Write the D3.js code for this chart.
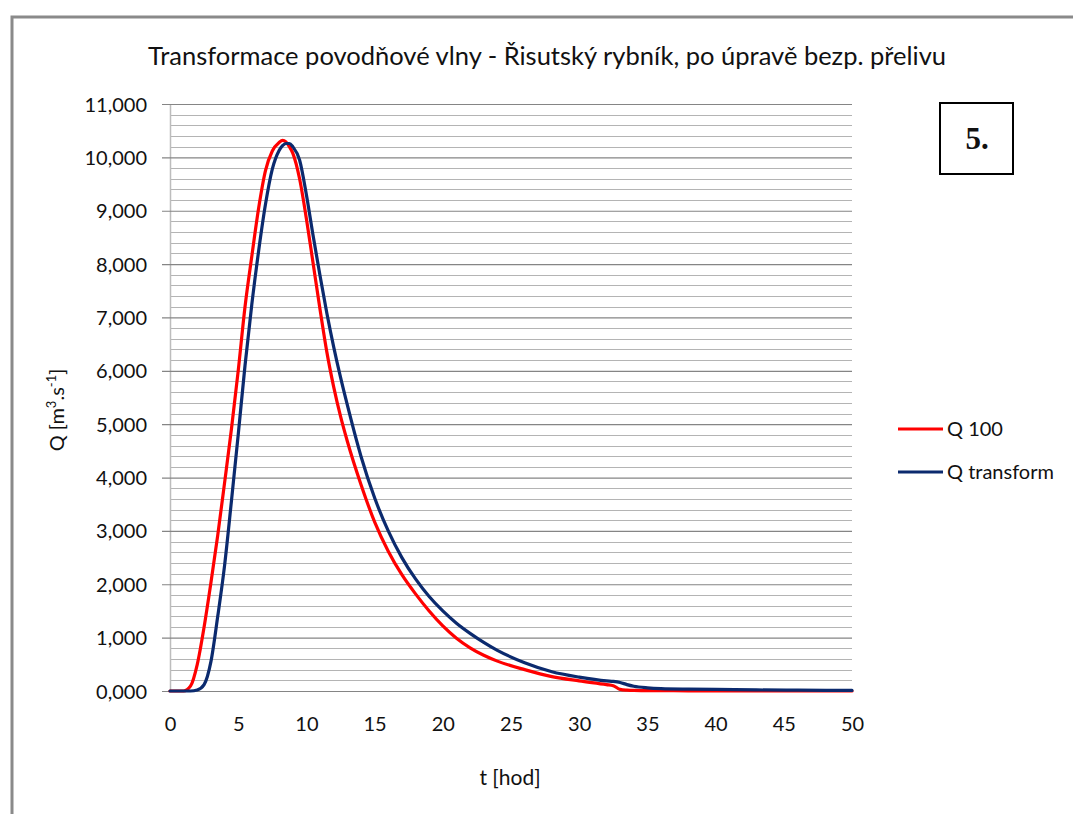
<!DOCTYPE html>
<html>
<head>
<meta charset="utf-8">
<script src="https://cdn.jsdelivr.net/npm/d3@7"></script>
<style>
  html, body { margin: 0; padding: 0; background: #ffffff; }
  svg { display: block; }
  text { font-family: Lato, "Open Sans", sans-serif; fill: #111; }
</style>
</head>
<body>
<svg id="chart" width="1073" height="814"></svg>
<script>
// Time [h]
const timeHours = [0, 1, 1.5, 2, 2.5, 3, 3.5, 4, 4.5, 5, 5.5, 6, 6.5, 7, 7.5, 8, 8.25, 8.5, 8.75, 9, 9.5, 10, 10.5, 11, 11.5, 12, 12.5, 13, 14, 15, 16, 17, 18, 19, 20, 21, 22, 23, 24, 26, 28, 30, 32, 32.5, 33, 33.5, 34, 35, 36, 38, 40, 43, 46, 50];
// Inflow hydrograph Q100 [m3/s]
const q100 = [0, 0, 0.09, 0.5, 1.2, 2.03, 2.92, 3.9, 4.9, 6.0, 7.2, 8.15, 9.05, 9.75, 10.12, 10.28, 10.32, 10.29, 10.2, 10.08, 9.6, 8.85, 8.0, 7.15, 6.35, 5.7, 5.15, 4.68, 3.87, 3.17, 2.62, 2.18, 1.82, 1.5, 1.22, 0.99, 0.81, 0.67, 0.56, 0.4, 0.27, 0.19, 0.12, 0.1, 0.03, 0.015, 0.01, 0.008, 0.006, 0.004, 0.003, 0.002, 0.001, 0];
// Outflow after transformation in the pond [m3/s]
const qTransform = [0, 0, 0, 0.02, 0.12, 0.55, 1.4, 2.35, 3.55, 4.8, 6.1, 7.25, 8.25, 9.12, 9.78, 10.13, 10.22, 10.26, 10.26, 10.2, 9.95, 9.3, 8.52, 7.78, 7.08, 6.45, 5.88, 5.36, 4.4, 3.62, 3.0, 2.5, 2.1, 1.77, 1.5, 1.27, 1.08, 0.91, 0.76, 0.53, 0.36, 0.26, 0.19, 0.18, 0.16, 0.12, 0.09, 0.06, 0.045, 0.035, 0.03, 0.02, 0.015, 0.01];

const xTicks = [0, 5, 10, 15, 20, 25, 30, 35, 40, 45, 50];
const yMajorTicks = [0, 1, 2, 3, 4, 5, 6, 7, 8, 9, 10, 11];
const seriesNames = ["Q 100", "Q transform"];
const seriesColors = ["#ff0000", "#0b2a6e"];

const titleText = "Transformace povodňové vlny - Řisutský rybník, po úpravě bezp. přelivu";

const svg = d3.select("#chart");

// outer frame (top and left edges)
svg.append("path")
  .attr("d", "M12,814 V17 H1073")
  .attr("fill", "none")
  .attr("stroke", "#8a8a8a")
  .attr("stroke-width", 3);

const plot = { left: 170, right: 852, top: 104, bottom: 691 };

const x = d3.scaleLinear().domain([0, 50]).range([plot.left, plot.right]);
const y = d3.scaleLinear().domain([0, 11]).range([plot.bottom, plot.top]);

const czLocale = d3.formatLocale({ decimal: ",", thousands: " ", grouping: [3], currency: ["", ""] });
const fmt = czLocale.format(".3f");

// minor gridlines every 0.2
const minorTicks = d3.range(0, 11.0001, 0.2).filter(v => Math.abs(v - Math.round(v)) > 1e-6);
svg.append("g")
  .selectAll("line")
  .data(minorTicks)
  .join("line")
  .attr("x1", plot.left).attr("x2", plot.right)
  .attr("y1", d => Math.round(y(d)) + 0.5).attr("y2", d => Math.round(y(d)) + 0.5)
  .attr("stroke", "#b4b4b4")
  .attr("stroke-width", 1);

// left edge of plot area
svg.append("line")
  .attr("x1", plot.left + 0.5).attr("x2", plot.left + 0.5)
  .attr("y1", plot.top).attr("y2", plot.bottom)
  .attr("stroke", "#bdbdbd")
  .attr("stroke-width", 1.5);

// y axis with major gridlines
const yAxis = d3.axisLeft(y)
  .tickValues(yMajorTicks)
  .tickFormat(fmt)
  .tickSize(-(plot.right - plot.left))
  .tickPadding(0);
const yg = svg.append("g")
  .attr("transform", `translate(${plot.left},0)`)
  .call(yAxis);
yg.select(".domain").remove();
yg.selectAll(".tick line")
  .attr("x1", -8)
  .attr("stroke", "#858585")
  .attr("stroke-width", 1.2);
yg.selectAll(".tick text")
  .attr("x", -23)
  .attr("dy", "0.35em")
  .style("font-family", "Lato, sans-serif")
  .style("font-size", "20px")
  .attr("fill", "#1a1a1a");

// x axis
const xAxis = d3.axisBottom(x)
  .tickValues(xTicks)
  .tickFormat(d3.format("d"))
  .tickSize(0)
  .tickPadding(0);
const xg = svg.append("g")
  .attr("transform", `translate(0,${plot.bottom})`)
  .call(xAxis);
xg.select(".domain")
  .attr("stroke", "#858585")
  .attr("stroke-width", 1.2);
xg.selectAll(".tick text")
  .attr("y", 40)
  .attr("dy", "0")
  .style("font-family", "Lato, sans-serif")
  .style("font-size", "20px")
  .attr("fill", "#1a1a1a");

// series lines
const line = d3.line()
  .x(d => x(d[0]))
  .y(d => y(d[1]))
  .curve(d3.curveMonotoneX);

const seriesData = [
  timeHours.map((t, i) => [t, q100[i]]),
  timeHours.map((t, i) => [t, qTransform[i]])
];

svg.append("g")
  .selectAll("path")
  .data(seriesData)
  .join("path")
  .attr("d", line)
  .attr("fill", "none")
  .attr("stroke", (d, i) => seriesColors[i])
  .attr("stroke-width", 3.2)
  .attr("stroke-linejoin", "round")
  .attr("stroke-linecap", "round");

// title
svg.append("text")
  .attr("x", 547)
  .attr("y", 65)
  .attr("text-anchor", "middle")
  .style("font-family", "Lato, sans-serif")
  .style("font-size", "25.5px")
  .text(titleText);

// axis titles
svg.append("text")
  .attr("x", 510)
  .attr("y", 785)
  .attr("text-anchor", "middle")
  .style("font-size", "21px")
  .text("t [hod]");

const yTitle = svg.append("text")
  .attr("transform", "translate(64,410) rotate(-90)")
  .attr("text-anchor", "middle")
  .style("font-size", "20px");
yTitle.append("tspan").text("Q [m");
yTitle.append("tspan").attr("baseline-shift", "super").style("font-size", "13px").text("3");
yTitle.append("tspan").text(".s");
yTitle.append("tspan").attr("baseline-shift", "super").style("font-size", "13px").text("-1");
yTitle.append("tspan").text("]");

// legend
const legend = svg.append("g")
  .selectAll("g")
  .data(seriesNames)
  .join("g")
  .attr("transform", (d, i) => `translate(898,${429 + i * 43})`);
legend.append("line")
  .attr("x1", 0).attr("x2", 45)
  .attr("stroke", (d, i) => seriesColors[i])
  .attr("stroke-width", 3);
legend.append("text")
  .attr("x", 49)
  .attr("dy", "0.35em")
  .style("font-size", "20px")
  .text(d => d);

// numbered box
svg.append("rect")
  .attr("x", 940).attr("y", 103)
  .attr("width", 73).attr("height", 71)
  .attr("fill", "#fff")
  .attr("stroke", "#000")
  .attr("stroke-width", 2);
svg.append("text")
  .attr("x", 977)
  .attr("y", 149)
  .attr("text-anchor", "middle")
  .style("font-family", "'Liberation Serif', 'DejaVu Serif', serif")
  .style("font-weight", "bold")
  .style("font-size", "31px")
  .attr("fill", "#000")
  .text("5.");
</script>
</body>
</html>
